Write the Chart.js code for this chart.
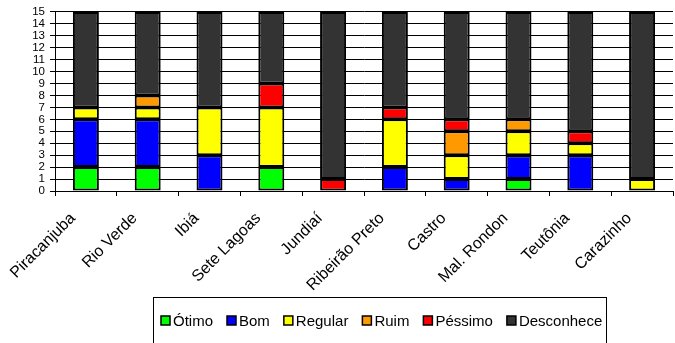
<!DOCTYPE html>
<html>
<head>
<meta charset="utf-8">
<script src="https://cdn.jsdelivr.net/npm/chart.js@4"></script>
<style>
html,body{margin:0;padding:0;background:#fff;}
#wrap{width:675px;height:343px;}
</style>
</head>
<body>
<div id="wrap"><canvas id="c" width="675" height="343"></canvas></div>
<script>
const categories = ["Piracanjuba","Rio Verde","Ibiá","Sete Lagoas","Jundiaí","Ribeirão Preto","Castro","Mal. Rondon","Teutônia","Carazinho"];
const otimo      = [2,2,0,2,0,0,0,1,0,0];
const bom        = [4,4,3,0,0,2,1,2,3,0];
const regular    = [1,1,4,5,0,4,2,2,1,1];
const ruim       = [0,1,0,0,0,0,2,1,0,0];
const pessimo    = [0,0,0,2,1,1,1,0,1,0];
const desconhece = [8,7,8,6,14,8,9,9,10,14];
const yTicks = [0,1,2,3,4,5,6,7,8,9,10,11,12,13,14,15];

const seriesNames = ["Ótimo","Bom","Regular","Ruim","Péssimo","Desconhece"];
const seriesData = [otimo,bom,regular,ruim,pessimo,desconhece];
const colors = ["#00FF00","#0000FF","#FFFF00","#FF9900","#FF0000","#333333"];

const FONT = "'Liberation Sans', Arial, sans-serif";

// Legend drawn from the chart's datasets, inside a framed box
const framedLegend = {
  id:'framedLegend',
  afterDraw(chart){
    const ctx = chart.ctx;
    const frame = {left:153, right:606, top:297};
    ctx.save();
    ctx.strokeStyle = '#000';
    ctx.lineWidth = 1;
    ctx.strokeRect(frame.left+0.5, frame.top+0.5, frame.right-frame.left, 80);
    ctx.font = "15px " + FONT;
    ctx.textBaseline = 'middle';
    const box = 9, gapText = 3, gapItem = 14;
    const items = chart.data.datasets.map(ds=>({text:ds.label, color:ds.backgroundColor, w:ctx.measureText(ds.label).width}));
    const total = items.reduce((s,it)=>s+box+gapText+it.w,0) + gapItem*(items.length-1);
    let x = Math.round((frame.left+frame.right)/2 - total/2) + 2;
    const cy = 321;
    items.forEach(it=>{
      ctx.fillStyle = it.color;
      ctx.fillRect(x, cy-5, box, box);
      ctx.strokeStyle = '#000';
      ctx.lineWidth = 1.5;
      ctx.strokeRect(x, cy-5, box, box);
      ctx.fillStyle = '#000';
      ctx.fillText(it.text, x+box+gapText, cy+1);
      x += box+gapText+it.w+gapItem;
    });
    ctx.restore();
  }
};

new Chart(document.getElementById('c'), {
  type:'bar',
  data:{
    labels: categories,
    datasets: seriesData.map((d,i)=>({
      label: seriesNames[i],
      data: d,
      backgroundColor: colors[i],
      borderColor:'#000',
      borderWidth:2,
      borderSkipped:false,
      categoryPercentage:1,
      barPercentage:0.42
    }))
  },
  options:{
    responsive:false,
    animation:false,
    devicePixelRatio:1,
    layout:{padding:{left:0,right:2,top:8,bottom:42}},
    scales:{
      x:{
        stacked:true,
        offset:true,
        afterFit(scale){ scale.height = 110; },
        grid:{display:true, drawOnChartArea:false, offset:true, tickLength:5, color:'#000'},
        border:{color:'#000', width:1},
        ticks:{color:'#000', font:{family:FONT, size:16}, minRotation:45, maxRotation:45, autoSkip:false, padding:13, labelOffset:-13}
      },
      y:{
        stacked:true,
        min:0, max:15,
        afterBuildTicks(scale){ scale.ticks = yTicks.map(v=>({value:v})); },
        afterFit(scale){ scale.width = 55; },
        grid:{color:'#000', lineWidth:1, tickLength:5},
        border:{color:'#000', width:1},
        ticks:{color:'#000', font:{family:FONT, size:11.5}, padding:5, autoSkip:false}
      }
    },
    plugins:{
      legend:{display:false},
      tooltip:{enabled:false}
    }
  },
  plugins:[framedLegend]
});
</script>
</body>
</html>
